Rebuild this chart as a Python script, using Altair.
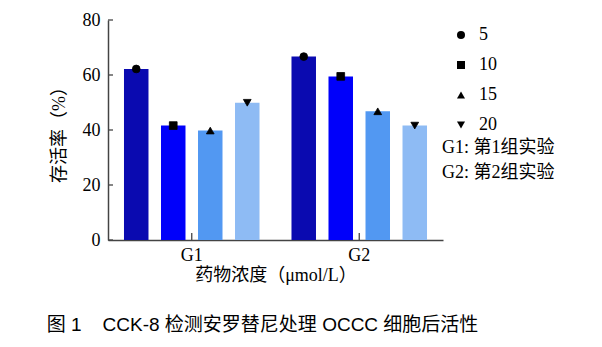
import altair as alt
import pandas as pd

groups = ["G1", "G1", "G1", "G1", "G2", "G2", "G2", "G2"]
conc = ["5", "10", "15", "20", "5", "10", "15", "20"]
values = [62.2, 41.6, 39.8, 49.9, 66.7, 59.5, 46.8, 41.6]
conc_order = ["5", "10", "15", "20"]
bar_colors = ["#0A0AB0", "#0000FA", "#5298F2", "#8EBBF4"]
shapes = ["circle", "square", "triangle-up", "triangle-down"]
notes = ["G1: 第1组实验", "G2: 第2组实验"]
y_ticks = [0, 20, 40, 60, 80]
group_names = ["G1", "G2"]

df = pd.DataFrame({"group": groups, "conc": conc, "dose": conc, "value": values})
yt_df = pd.DataFrame({"v": y_ticks})
xt_df = pd.DataFrame({"group": group_names})

SERIF = "Liberation Serif, Noto Sans CJK SC"
AXC = "#444444"
FS = 18

xscale = alt.Scale(domain=group_names, paddingInner=0, paddingOuter=0)
yscale = alt.Scale(domain=[0, 80])

x = alt.X("group:N", title="药物浓度（μmol/L）", scale=xscale,
          axis=alt.Axis(labelAngle=0, ticks=False, labelPadding=6, titlePadding=2))
xo = alt.XOffset("conc:N", sort=conc_order,
                 scale=alt.Scale(paddingInner=0.338, paddingOuter=0.432))
y = alt.Y("value:Q", title="存活率（%）", scale=yscale,
          axis=alt.Axis(values=y_ticks, ticks=False, grid=False,
                        labelPadding=8, titlePadding=14))

# colour scale domain is taken from the data (sorted), so that it is not merged
# with the (explicit-domain) shape legend
bars = alt.Chart(df).mark_bar().encode(
    x=x, xOffset=xo, y=y,
    color=alt.Color("conc:N", sort=conc_order,
                    scale=alt.Scale(range=bar_colors),
                    legend=None),
)

points = alt.Chart(df).mark_point(filled=True, fill="black", stroke="black",
                                  strokeWidth=0.8, opacity=1, size=60).encode(
    x=x, xOffset=xo, y=y,
    shape=alt.Shape("dose:N",
                    scale=alt.Scale(domain=conc_order, range=shapes),
                    legend=alt.Legend(title="", orient="none", legendX=344, legendY=6,
                                      labelFontSize=FS, labelFont=SERIF,
                                      rowPadding=12, labelOffset=9)),
)

ytick_marks = alt.Chart(yt_df).mark_rule(color=AXC, strokeWidth=1.3).encode(
    y=alt.Y("v:Q"),
    x=alt.value(0), x2=alt.value(5),
)

xtick_marks = alt.Chart(xt_df).mark_rule(color=AXC, strokeWidth=1.3).encode(
    x=alt.X("group:N"),
    y=alt.value(213), y2=alt.value(220),
)

def note_layer(txt, ypix):
    return alt.Chart(pd.DataFrame({"note": [txt]})).mark_text(
        align="left", baseline="middle", fontSize=FS, font=SERIF, color="black"
    ).encode(text="note:N", x=alt.value(334), y=alt.value(ypix))

caption = "图\u00a01\u00a0\u00a0\u00a0\u00a0CCK-8\u00a0检测安罗替尼处理\u00a0OCCC\u00a0细胞后活性"

chart = alt.layer(
    bars, points, ytick_marks, xtick_marks,
    note_layer(notes[0], 128), note_layer(notes[1], 153),
).properties(
    width=335, height=220,
    background="white",
    autosize=alt.AutoSizeParams(type="none"),
    padding={"left": 108, "top": 20, "right": 159, "bottom": 107},
    title=alt.TitleParams(caption,
                          orient="bottom", anchor="middle", offset=32,
                          fontSize=19, font="Liberation Sans, Noto Sans CJK SC",
                          fontWeight="normal", dx=-13, color="black"),
).configure_view(stroke=None).configure_axis(
    labelFont=SERIF, titleFont=SERIF, labelFontSize=FS, titleFontSize=FS,
    titleFontWeight="normal", labelColor="black", titleColor="black",
    domainColor=AXC, domainWidth=1.5,
).configure_legend(labelColor="black", symbolFillColor="black",
                   symbolStrokeColor="black", symbolSize=65, symbolOpacity=1)

chart.save("out.html", embed_options={"renderer": "svg", "actions": False})
